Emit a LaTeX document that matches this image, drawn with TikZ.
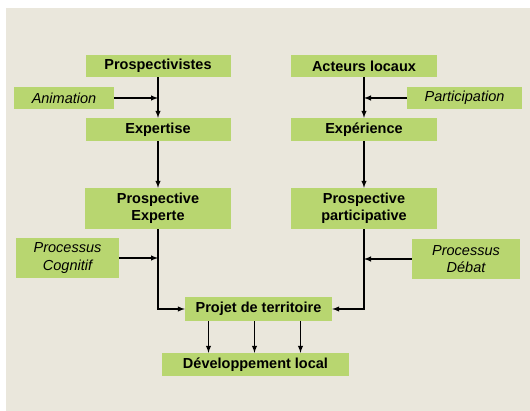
\documentclass[tikz,border=0pt]{standalone}
\usepackage{fontspec}
\setmainfont{Liberation Sans}
\usepackage{tikz}
\usetikzlibrary{arrows.meta}
\usetikzlibrary{calc}

\definecolor{boxgreen}{RGB}{184,214,112}
\definecolor{bgbeige}{RGB}{234,231,220}

\tikzset{
  box/.style={fill=boxgreen,inner sep=0pt,align=center,
    font=\fontsize{14.5}{17.5}\selectfont\bfseries},
  side/.style={fill=boxgreen,inner sep=0pt,align=center,
    font=\fontsize{14.5}{17.5}\selectfont\itshape},
  fl/.style={->,>=latex,line width=1.4pt},
}

\begin{document}
\begin{tikzpicture}[x=1pt,y=-1pt]
\useasboundingbox (0,0) rectangle (530,411);
\fill[white] (0,0) rectangle (530,411);
\fill[bgbeige] (6,8) rectangle (530,411);

\node[box,minimum width=145pt,minimum height=22pt] (PV) at (158,66) {Prospectivistes};
\node[box,minimum width=146pt,minimum height=22pt] (AL) at (364,66) {Acteurs locaux};
\node[side,minimum width=100pt,minimum height=22pt] (An) at (64,98) {Animation};
\node[side,minimum width=115pt,minimum height=22pt] (Pa) at (464.5,98) {Participation};
\node[box,minimum width=145pt,minimum height=23pt] (Ex) at (158,129.5) {Expertise};
\node[box,minimum width=146pt,minimum height=23pt] (Ep) at (364,129.5) {Expérience};
\node[box,minimum width=146pt,minimum height=41pt] (PE) at (158,208.5) {Prospective\\Experte};
\node[box,minimum width=146pt,minimum height=41pt] (PP) at (364,208.5) {Prospective\\participative};
\node[side,minimum width=103pt,minimum height=40pt] (PC) at (67.5,258) {Processus\\Cognitif};
\node[side,minimum width=108pt,minimum height=40pt] (PD) at (466,259) {Processus\\Débat};
\node[box,minimum width=147pt,minimum height=24pt] (PT) at (258.5,309) {Projet de territoire};
\node[box,minimum width=187pt,minimum height=23pt] (DL) at (255.5,364.5) {Développement local};

\draw[fl] (PV) -- (Ex);
\draw[fl] (AL) -- (Ep);
\draw[fl] (An.east) -- (An.east -| PV.south);
\draw[fl] (Pa.west) -- (Pa.west -| AL.south);
\draw[fl] (Ex) -- (PE);
\draw[fl] (Ep) -- (PP);
\draw[fl] (PC.east) -- (PC.east -| PE.south);
\draw[fl] (PD.west) -- (PD.west -| PP.south);
\draw[fl] (PE.south) |- (PT.west);
\draw[fl] (PP.south) |- (PT.east);
\foreach \d in {-47,-1,45}
  \draw[fl] ([xshift=\d pt]DL.north |- PT.south) -- ([xshift=\d pt]DL.north);
\end{tikzpicture}
\end{document}
